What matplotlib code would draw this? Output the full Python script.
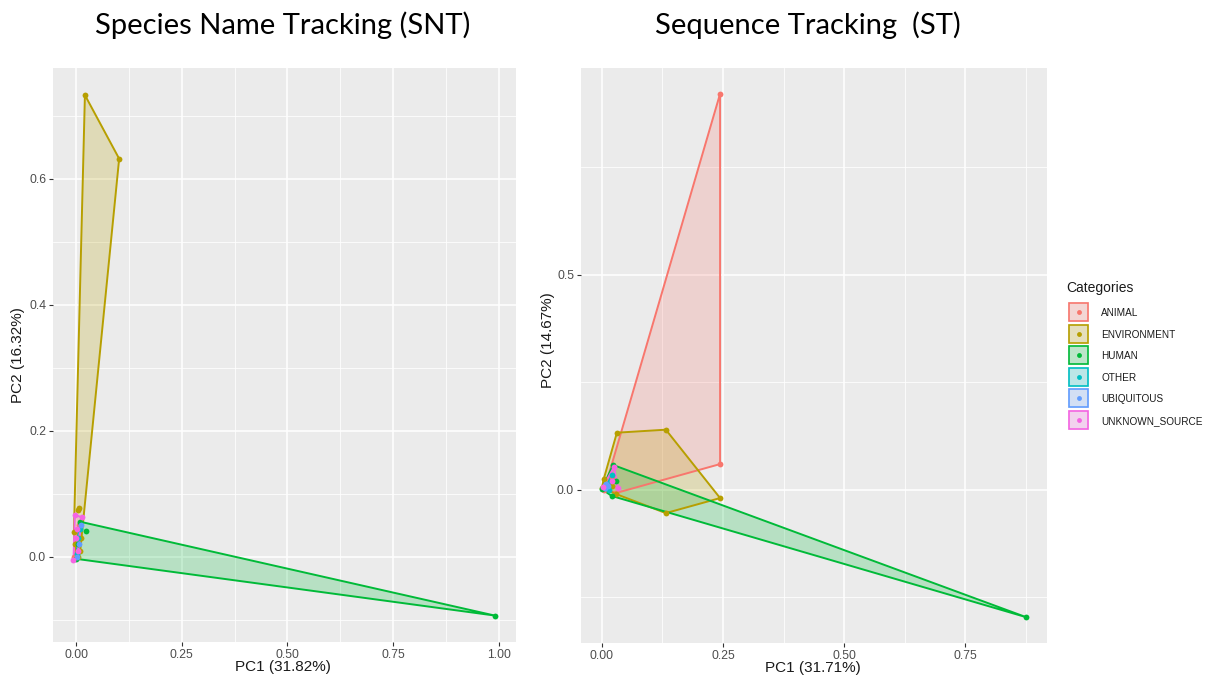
import numpy as np
import matplotlib
matplotlib.use("Agg")
import matplotlib.pyplot as plt
from matplotlib.patches import Polygon, Rectangle

# category order and ggplot hue colours
categories = ["ANIMAL", "ENVIRONMENT", "HUMAN", "OTHER", "UBIQUITOUS", "UNKNOWN_SOURCE"]
colors = ["#F8766D", "#B79F00", "#00BA38", "#00BFC4", "#619CFF", "#F564E3"]

# Species Name Tracking (SNT) - PCA scores
snt_animal_x = [-0.004, 0.006, 0.002, 0.008]
snt_animal_y = [0.000, 0.050, 0.020, 0.030]
snt_env_x = [0.021, 0.102, 0.008, 0.004, -0.003, -0.005, 0.010, 0.005, 0.012]
snt_env_y = [0.733, 0.632, 0.078, 0.075, 0.020, 0.040, 0.010, 0.000, 0.030]
snt_human_x = [0.990, 0.009, 0.000, 0.024, 0.005]
snt_human_y = [-0.093, 0.056, -0.003, 0.041, 0.020]
snt_other_x = [0.002, 0.010, 0.004]
snt_other_y = [0.005, 0.045, 0.030]
snt_ubiq_x = [0.003, 0.011, 0.006]
snt_ubiq_y = [0.000, 0.050, 0.020]
snt_unknown_x = [-0.003, 0.013, -0.006, 0.000, 0.005, 0.002]
snt_unknown_y = [0.067, 0.063, -0.005, 0.030, 0.010, 0.045]

# Sequence Tracking (ST)
st_animal_x = [0.244, 0.244, 0.030, 0.005, 0.020]
st_animal_y = [0.921, 0.060, -0.007, 0.000, 0.030]
st_env_x = [0.031, 0.132, 0.244, 0.132, 0.000, 0.004, 0.030, 0.020]
st_env_y = [0.133, 0.140, -0.019, -0.054, 0.005, 0.026, -0.010, 0.010]
st_human_x = [0.876, 0.023, 0.020, 0.000, 0.030]
st_human_y = [-0.296, 0.058, -0.014, 0.002, 0.020]
st_other_x = [0.008, 0.020, 0.015]
st_other_y = [0.005, 0.035, 0.000]
st_ubiq_x = [0.006, 0.012, 0.009]
st_ubiq_y = [0.004, 0.010, 0.014]
st_unknown_x = [0.025, 0.033, 0.002, 0.020]
st_unknown_y = [0.053, 0.005, 0.007, 0.020]

snt = [(snt_animal_x, snt_animal_y), (snt_env_x, snt_env_y), (snt_human_x, snt_human_y),
       (snt_other_x, snt_other_y), (snt_ubiq_x, snt_ubiq_y), (snt_unknown_x, snt_unknown_y)]
st = [(st_animal_x, st_animal_y), (st_env_x, st_env_y), (st_human_x, st_human_y),
      (st_other_x, st_other_y), (st_ubiq_x, st_ubiq_y), (st_unknown_x, st_unknown_y)]


def hull(xs, ys):
  # monotone chain convex hull
  pts = sorted(set(zip(xs, ys)))
  if len(pts) < 3:
    return pts
  def cross(o, a, b):
    return (a[0]-o[0])*(b[1]-o[1]) - (a[1]-o[1])*(b[0]-o[0])
  lower = []
  for p in pts:
    while len(lower) >= 2 and cross(lower[-2], lower[-1], p) <= 0:
      lower.pop()
    lower.append(p)
  upper = []
  for p in reversed(pts):
    while len(upper) >= 2 and cross(upper[-2], upper[-1], p) <= 0:
      upper.pop()
    upper.append(p)
  return lower[:-1] + upper[:-1]


def panel(ax, data, xmaj, xmin, ymaj, ymin, xlim, ylim, ylabels):
  ax.set_facecolor("#EBEBEB")
  for s in ax.spines.values():
    s.set_visible(False)
  ax.set_xticks(xmaj)
  ax.set_xticks(xmin, minor=True)
  ax.set_yticks(ymaj)
  ax.set_yticks(ymin, minor=True)
  ax.set_yticklabels(ylabels)
  ax.grid(True, which="major", color="white", lw=1.1)
  ax.grid(True, which="minor", color="white", lw=0.55)
  ax.set_axisbelow(True)
  ax.tick_params(which="major", length=3, width=0.8, color="#333333",
                 labelcolor="#4D4D4D", labelsize=8.8, pad=2)
  ax.tick_params(which="minor", length=0)
  for (xs, ys), c in zip(data, colors):
    h = hull(xs, ys)
    ax.add_patch(Polygon(h, closed=True, facecolor=c, alpha=0.22, edgecolor="none", zorder=2))
    ax.add_patch(Polygon(h, closed=True, facecolor="none", edgecolor=c, lw=1.4, zorder=3))
  for (xs, ys), c in zip(data, colors):
    ax.plot(xs, ys, "o", color=c, ms=4.2, mec="none", zorder=4)
  ax.set_xlim(xlim)
  ax.set_ylim(ylim)


fig = plt.figure(figsize=(12.07, 6.75), dpi=100)
plt.rcParams["font.family"] = ["Liberation Sans", "DejaVu Sans"]

ax1 = fig.add_axes([0.0439, 0.0489, 0.3836, 0.8504])
panel(ax1, snt, [0, 0.25, 0.5, 0.75, 1.0], [0.125, 0.375, 0.625, 0.875],
      [0.0, 0.2, 0.4, 0.6], [-0.1, 0.1, 0.3, 0.5, 0.7],
      (-0.0545, 1.0405), (-0.135, 0.776), ["0.0", "0.2", "0.4", "0.6"])
ax1.set_xticklabels(["0.00", "0.25", "0.50", "0.75", "1.00"])

ax2 = fig.add_axes([0.4814, 0.0474, 0.3861, 0.8519])
panel(ax2, st, [0, 0.25, 0.5, 0.75], [0.125, 0.375, 0.625, 0.875],
      [0.0, 0.5], [-0.25, 0.25, 0.75],
      (-0.043, 0.919), (-0.356, 0.981), ["0.0", "0.5"])
ax2.set_xticklabels(["0.00", "0.25", "0.50", "0.75"])

# axis titles
fig.text(283/1207, 1-667/675, "PC1 (31.82%)", ha="center", va="center", fontsize=11, color="#1A1A1A")
fig.text(813/1207, 1-668/675, "PC1 (31.71%)", ha="center", va="center", fontsize=11, color="#1A1A1A")
fig.text(18/1207, 1-355/675, "PC2 (16.32%)", ha="center", va="center", rotation=90, fontsize=11, color="#1A1A1A")
fig.text(548/1207, 1-340/675, "PC2 (14.67%)", ha="center", va="center", rotation=90, fontsize=11, color="#1A1A1A")

# panel headings
fig.text(283/1207, 1-25/675, "Species Name Tracking (SNT)", ha="center", va="center",
         fontsize=21, family="Lato", color="black")
fig.text(808/1207, 1-25/675, "Sequence Tracking  (ST)", ha="center", va="center",
         fontsize=21, family="Lato", color="black")

# legend drawn by hand in pixel space
lax = fig.add_axes([0, 0, 1, 1], zorder=5)
lax.set_xlim(0, 1207)
lax.set_ylim(675, 0)
lax.axis("off")
lax.text(1066, 288, "Categories", fontsize=10, va="center", ha="left", color="#1A1A1A")
for i, (cat, c) in enumerate(zip(categories, colors)):
  yc = 312 + i*21.6
  lax.add_patch(Rectangle((1068, yc-10), 21, 20, facecolor="#F2F2F2", edgecolor="none"))
  lax.add_patch(Rectangle((1069, yc-9), 19, 18, facecolor=c, alpha=0.22, edgecolor="none"))
  lax.add_patch(Rectangle((1069, yc-9), 19, 18, facecolor="none", edgecolor=c, lw=1.2))
  lax.plot([1078.5], [yc], "o", color=c, ms=3.5, mec="none")
  lax.text(1101, yc+1, cat, fontsize=7.2, va="center", ha="left", color="#1A1A1A")

fig.savefig("out.png", dpi=100, facecolor="white")
